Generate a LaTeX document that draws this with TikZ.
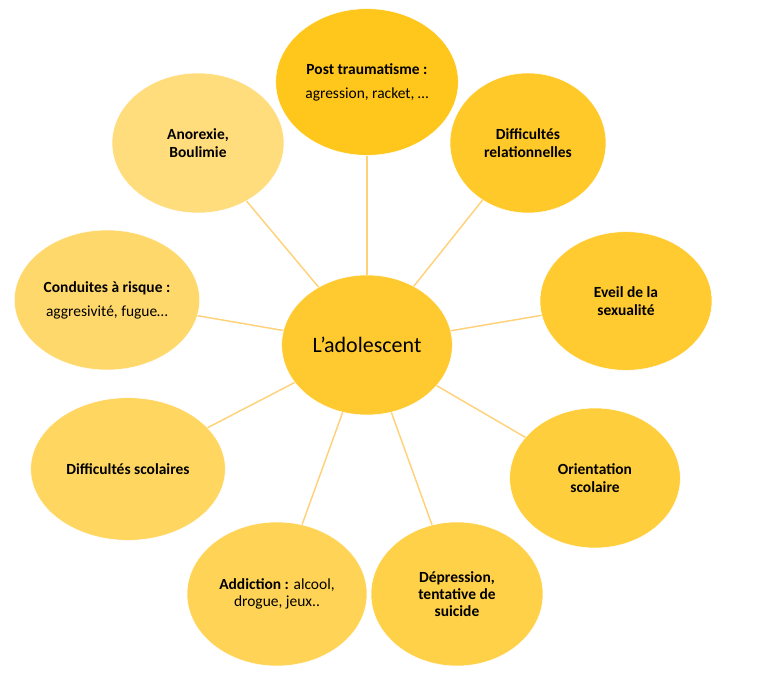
\documentclass[tikz,border=0pt]{standalone}
\usepackage{fontspec}
\setmainfont{Carlito}
\usepackage{tikz}
\usetikzlibrary{positioning,shapes.geometric}
\definecolor{cAdo}{HTML}{FFCA30}
\definecolor{cPost}{HTML}{FFC61C}
\definecolor{cRel}{HTML}{FFC92A}
\definecolor{cEveil}{HTML}{FFCB31}
\definecolor{cOrient}{HTML}{FFCE3C}
\definecolor{cDepr}{HTML}{FFD148}
\definecolor{cAddict}{HTML}{FFD456}
\definecolor{cScol}{HTML}{FFD660}
\definecolor{cCond}{HTML}{FFD86B}
\definecolor{cAnor}{HTML}{FFDC7C}
\definecolor{cLink}{HTML}{FFD27A}

\begin{document}
\begin{tikzpicture}[x=0.75pt, y=-0.75pt,
  font=\fontsize{11.6}{13}\selectfont,
  bulle/.style={ellipse, inner sep=0pt, align=center, draw=white, line width=0.4pt},
  lien/.style={draw=cLink, line width=1.1pt}]
\useasboundingbox (0,0) rectangle (758,685);
% centre
\node[bulle, fill=cAdo, minimum width=128pt, minimum height=105pt, font=\fontsize{16.5}{19}\selectfont] (ado) at (367,345) {L\char39 adolescent};
% autour
\node[bulle, fill=cPost, minimum width=137pt, minimum height=110pt] (post) at (367,82) {\textbf{Post traumatisme :}\\[5pt] agression, racket, \dots};
\node[bulle, fill=cRel, minimum width=117pt, minimum height=105pt] (rel) at (528,143) {\textbf{Difficultés}\\ \textbf{relationnelles}};
\node[bulle, fill=cEveil, minimum width=129pt, minimum height=104pt] (eveil) at (626,301) {\textbf{Eveil de la}\\ \textbf{sexualité}};
\node[bulle, fill=cOrient, minimum width=128pt, minimum height=105pt] (orient) at (595,478) {\textbf{Orientation}\\ \textbf{scolaire}};
\node[bulle, fill=cDepr, minimum width=129pt, minimum height=108pt] (depr) at (457,594) {\textbf{Dépression,}\\ \textbf{tentative de}\\ \textbf{suicide}};
\node[bulle, fill=cAddict, minimum width=135pt, minimum height=108pt] (addict) at (277,594) {\textbf{Addiction :} alcool,\\ drogue, jeux..};
\node[bulle, fill=cScol, minimum width=146pt, minimum height=107pt] (scol) at (128,469) {\textbf{Difficultés scolaires}};
\node[bulle, fill=cCond, minimum width=139pt, minimum height=105pt] (cond) at (107,300) {\textbf{Conduites à risque :}\\[5pt] aggresivité, fugue\dots};
\node[bulle, fill=cAnor, minimum width=129pt, minimum height=105pt] (anor) at (198,143) {\textbf{Anorexie,}\\ \textbf{Boulimie}};
% liens
\foreach \n in {post,rel,eveil,orient,depr,addict,scol,cond,anor}
  \draw[lien] (ado) -- (\n);
\end{tikzpicture}
\end{document}
